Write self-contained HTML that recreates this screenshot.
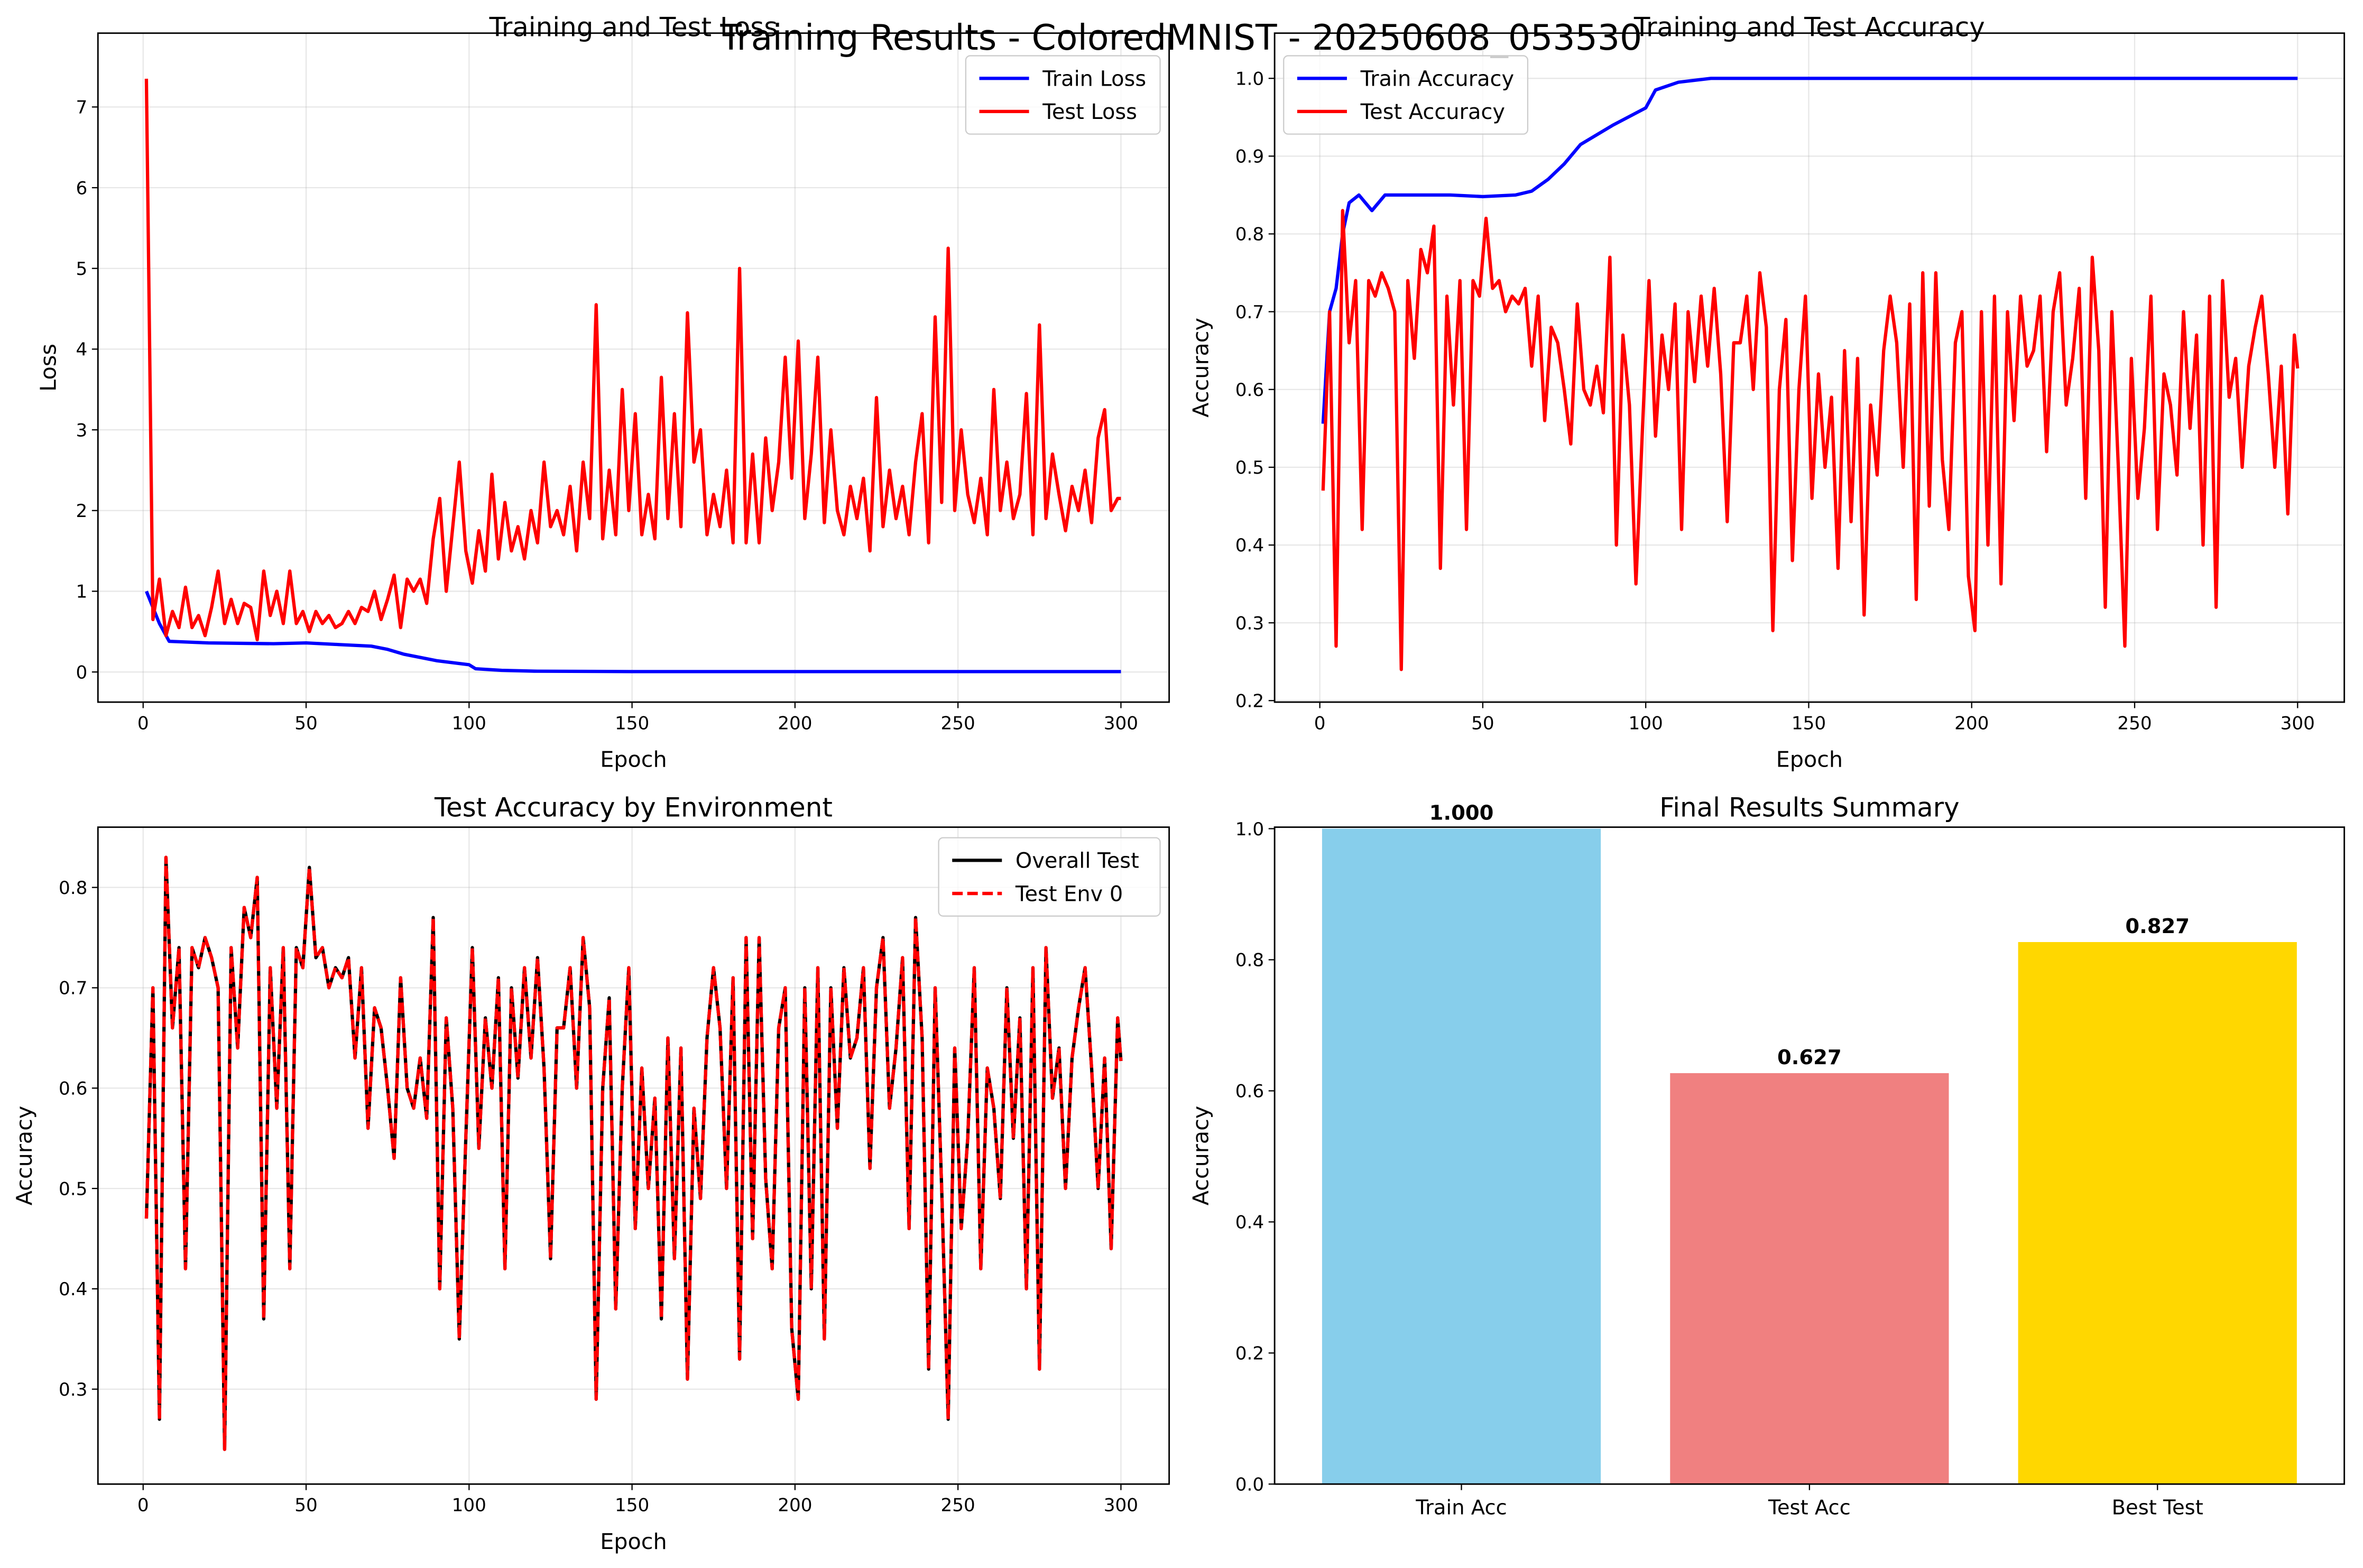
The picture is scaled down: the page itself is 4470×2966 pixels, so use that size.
<!DOCTYPE html>
<html><head><meta charset="utf-8"><style>
html,body{margin:0;padding:0;background:#fff}
svg{display:block;font-family:"DejaVu Sans","Liberation Sans",sans-serif}
</style></head><body>
<svg id="fig" xmlns="http://www.w3.org/2000/svg" width="4470" height="2966" viewBox="0 0 1568.4 1040.7">
<rect width="1568.4" height="1040.7" fill="#fff"/>
<text x="784" y="33" font-size="23.3" text-anchor="middle">Training Results - ColoredMNIST - 20250608_053530</text>
</svg>
<script>
const testEpochs=[1,3,5,7,9,11,13,15,17,19,21,23,25,27,29,31,33,35,37,39,41,43,45,47,49,51,53,55,57,59,61,63,65,67,69,71,73,75,77,79,81,83,85,87,89,91,93,95,97,99,101,103,105,107,109,111,113,115,117,119,121,123,125,127,129,131,133,135,137,139,141,143,145,147,149,151,153,155,157,159,161,163,165,167,169,171,173,175,177,179,181,183,185,187,189,191,193,195,197,199,201,203,205,207,209,211,213,215,217,219,221,223,225,227,229,231,233,235,237,239,241,243,245,247,249,251,253,255,257,259,261,263,265,267,269,271,273,275,277,279,281,283,285,287,289,291,293,295,297,299,300];
const testAcc=[0.47,0.70,0.27,0.83,0.66,0.74,0.42,0.74,0.72,0.75,0.73,0.70,0.24,0.74,0.64,0.78,0.75,0.81,0.37,0.72,0.58,0.74,0.42,0.74,0.72,0.82,0.73,0.74,0.70,0.72,0.71,0.73,0.63,0.72,0.56,0.68,0.66,0.60,0.53,0.71,0.60,0.58,0.63,0.57,0.77,0.40,0.67,0.58,0.35,0.55,0.74,0.54,0.67,0.60,0.71,0.42,0.70,0.61,0.72,0.63,0.73,0.62,0.43,0.66,0.66,0.72,0.60,0.75,0.68,0.29,0.60,0.69,0.38,0.60,0.72,0.46,0.62,0.50,0.59,0.37,0.65,0.43,0.64,0.31,0.58,0.49,0.65,0.72,0.66,0.50,0.71,0.33,0.75,0.45,0.75,0.51,0.42,0.66,0.70,0.36,0.29,0.70,0.40,0.72,0.35,0.70,0.56,0.72,0.63,0.65,0.72,0.52,0.70,0.75,0.58,0.64,0.73,0.46,0.77,0.65,0.32,0.70,0.50,0.27,0.64,0.46,0.55,0.72,0.42,0.62,0.58,0.49,0.70,0.55,0.67,0.40,0.72,0.32,0.74,0.59,0.64,0.50,0.63,0.68,0.72,0.62,0.50,0.63,0.44,0.67,0.627];
const testLoss=[7.35,0.65,1.15,0.45,0.75,0.55,1.05,0.55,0.7,0.45,0.8,1.25,0.6,0.9,0.6,0.85,0.8,0.4,1.25,0.7,1.0,0.6,1.25,0.6,0.75,0.5,0.75,0.6,0.7,0.55,0.6,0.75,0.6,0.8,0.75,1.0,0.65,0.9,1.2,0.55,1.15,1.0,1.15,0.85,1.65,2.15,1.0,1.8,2.6,1.5,1.1,1.75,1.25,2.45,1.4,2.1,1.5,1.8,1.4,2.0,1.6,2.6,1.8,2.0,1.7,2.3,1.5,2.6,1.9,4.55,1.65,2.5,1.7,3.5,2.0,3.2,1.7,2.2,1.65,3.65,1.9,3.2,1.8,4.45,2.6,3.0,1.7,2.2,1.8,2.5,1.6,5.0,1.6,2.7,1.6,2.9,2.0,2.6,3.9,2.4,4.1,1.9,2.7,3.9,1.85,3.0,2.0,1.7,2.3,1.9,2.4,1.5,3.4,1.8,2.5,1.9,2.3,1.7,2.6,3.2,1.6,4.4,2.1,5.25,2.0,3.0,2.2,1.85,2.4,1.7,3.5,2.0,2.6,1.9,2.2,3.45,1.7,4.3,1.9,2.7,2.2,1.75,2.3,2.0,2.5,1.85,2.9,3.25,2.0,2.15,2.15];
const trainLossEpochs=[1,5,8,20,40,50,60,70,75,80,90,100,102,110,120,150,300];
const trainLoss=[1.0,0.6,0.38,0.36,0.35,0.36,0.34,0.32,0.28,0.22,0.14,0.09,0.04,0.02,0.01,0.005,0.005];
const trainAccEpochs=[1,3,5,7,9,12,16,20,30,40,50,60,65,70,75,80,90,100,103,110,120,300];
const trainAcc=[0.556,0.70,0.73,0.80,0.84,0.85,0.83,0.85,0.85,0.85,0.848,0.85,0.855,0.87,0.89,0.915,0.94,0.962,0.985,0.995,1.0,1.0];
const barCats=["Train Acc","Test Acc","Best Test"];
const barVals=[1.000,0.627,0.827];
const barLabels=["1.000","0.627","0.827"];
const barColors=["#87ceeb","#f08080","#ffd700"];
const epochTicks=[0,50,100,150,200,250,300];
const lossTicks=[0,1,2,3,4,5,6,7];
const acc2Ticks=[0.2,0.3,0.4,0.5,0.6,0.7,0.8,0.9,1.0];
const acc3Ticks=[0.3,0.4,0.5,0.6,0.7,0.8];
const barTicks=[0,0.2,0.4,0.6,0.8,1.0];

const NS="http://www.w3.org/2000/svg";
const svg=document.getElementById('fig');
function mk(tag,attrs,parent){const e=document.createElementNS(NS,tag);for(const k in attrs)e.setAttribute(k,attrs[k]);(parent||svg).appendChild(e);return e;}
function lin(d0,d1,r0,r1){return v=>r0+(v-d0)*(r1-r0)/(d1-d0);}

function axes(name,L,R,T,B,title,titleY,xlabel,ylabel,ylx){
  const g=mk('g',{});
  
  
  const t=mk('text',{x:(L+R)/2,y:titleY,'font-size':17.5,'text-anchor':'middle'},g);t.textContent=title;
  
  
  if(xlabel){const x=mk('text',{x:(L+R)/2,y:B+43,'font-size':14.5,'text-anchor':'middle'},g);x.textContent=xlabel;
  
  }
  const y=mk('text',{x:0,y:0,'font-size':14.5,'text-anchor':'middle',transform:`translate(${ylx},${(T+B)/2}) rotate(-90)`},g);y.textContent=ylabel;
  
  
  return g;
}
function frame(g,L,R,T,B){const r=mk('rect',{x:L,y:T,width:R-L,height:B-T,fill:'none',stroke:'#000','stroke-width':1},g);
  
  }
function xTicks(g,L,R,T,B,sx,grid){
  epochTicks.forEach(v=>{const x=sx(v);
    if(grid)mk('line',{x1:x,x2:x,y1:T,y2:B,stroke:'#b0b0b0','stroke-opacity':0.3,'stroke-width':0.8},g);
    mk('line',{x1:x,x2:x,y1:B,y2:B+4,stroke:'#000','stroke-width':0.8},g);
    const t=mk('text',{x:x,y:B+18,'font-size':12,'text-anchor':'middle'},g);t.textContent=v;
    
    });
}
function yTicks(g,L,R,T,B,sy,ticks,fmt,grid){
  ticks.forEach(v=>{const y=sy(v);
    if(grid)mk('line',{x1:L,x2:R,y1:y,y2:y,stroke:'#b0b0b0','stroke-opacity':0.3,'stroke-width':0.8},g);
    mk('line',{x1:L-4,x2:L,y1:y,y2:y,stroke:'#000','stroke-width':0.8},g);
    const t=mk('text',{x:L-7,y:y+4.3,'font-size':12,'text-anchor':'end'},g);t.textContent=fmt(v);
    
    });
}
function line(g,xs,ys,sx,sy,color,name,dash){
  const d=xs.map((e,i)=>(i?'L':'M')+sx(e).toFixed(2)+','+sy(ys[i]).toFixed(2)).join(' ');
  const p=mk('path',{d:d,fill:'none',stroke:color,'stroke-width':2.2,'stroke-linejoin':'round'},g);
  if(dash)p.setAttribute('stroke-dasharray',dash);
  
  
}
function legend(g,x,y,w,items){
  const h=items.length*22+8;
  const r=mk('rect',{x:x,y:y,width:w,height:h,rx:3,fill:'#fff','fill-opacity':0.8,stroke:'#ccc','stroke-width':0.8},g);
  
  
  items.forEach((it,i)=>{const yy=y+15+i*22;
    const l=mk('line',{x1:x+9,x2:x+42,y1:yy,y2:yy,stroke:it.c,'stroke-width':2.2},g);
    if(it.dash)l.setAttribute('stroke-dasharray',it.dash);
    const t=mk('text',{x:x+51,y:yy+5,'font-size':14},g);t.textContent=it.t;
    
    });
}
const f1=v=>v.toFixed(1);

// Plot 1: loss
{const L=65,R=776,T=22,B=466;const sx=lin(0,300,95,744),sy=lin(0,7,446,71);
 const g=axes('loss-chart',L,R,T,B,'Training and Test Loss',24,'Epoch','Loss',L-28);
 xTicks(g,L,R,T,B,sx,true);yTicks(g,L,R,T,B,sy,lossTicks,v=>v,true);
 line(g,trainLossEpochs,trainLoss,sx,sy,'#0000ff','train-loss-line');
 line(g,testEpochs,testLoss,sx,sy,'#ff0000','test-loss-line');
 frame(g,L,R,T,B);
 legend(g,641,37,129,[{c:'#0000ff',t:'Train Loss'},{c:'#ff0000',t:'Test Loss'}]);}
// Plot 2: accuracy
{const L=846,R=1556,T=22,B=466;const sx=lin(0,300,876,1525),sy=lin(0.2,1.0,465,52);
 const g=axes('accuracy-chart',L,R,T,B,'Training and Test Accuracy',24,'Epoch','Accuracy',L-44);
 xTicks(g,L,R,T,B,sx,true);yTicks(g,L,R,T,B,sy,acc2Ticks,f1,true);
 line(g,trainAccEpochs,trainAcc,sx,sy,'#0000ff','train-accuracy-line');
 line(g,testEpochs,testAcc,sx,sy,'#ff0000','test-accuracy-line');
 frame(g,L,R,T,B);
 legend(g,852,37,162,[{c:'#0000ff',t:'Train Accuracy'},{c:'#ff0000',t:'Test Accuracy'}]);}
// Plot 3: by environment
{const L=65,R=776,T=549,B=985;const sx=lin(0,300,95,744),sy=lin(0.3,0.8,922,589);
 const g=axes('env-accuracy-chart',L,R,T,B,'Test Accuracy by Environment',542,'Epoch','Accuracy',L-44);
 xTicks(g,L,R,T,B,sx,true);yTicks(g,L,R,T,B,sy,acc3Ticks,f1,true);
 line(g,testEpochs,testAcc,sx,sy,'#000000','overall-test-line');
 line(g,testEpochs,testAcc,sx,sy,'#ff0000','test-env0-line','7,3');
 frame(g,L,R,T,B);
 legend(g,623,556,147,[{c:'#000',t:'Overall Test'},{c:'#ff0000',t:'Test Env 0',dash:'7,3'}]);}
// Plot 4: bars
{const L=846,R=1556,T=549,B=985;const sy=lin(0,1.0,985,550);
 const g=axes('summary-chart',L,R,T,B,'Final Results Summary',542,'','Accuracy',L-44);
 yTicks(g,L,R,T,B,sy,barTicks,f1,false);
 const bx=lin(0,2,970,1432),bw=185;
 barCats.forEach((c,i)=>{const cx=bx(i);
   const r=mk('rect',{x:cx-bw/2,y:sy(barVals[i]),width:bw,height:sy(0)-sy(barVals[i]),fill:barColors[i]},g);
   
   
   const v=mk('text',{x:cx,y:sy(barVals[i])-6,'font-size':13.5,'font-weight':'bold','text-anchor':'middle'},g);v.textContent=barLabels[i];
   
   
   mk('line',{x1:cx,x2:cx,y1:B,y2:B+4,stroke:'#000','stroke-width':0.8},g);
   const t=mk('text',{x:cx,y:B+20,'font-size':13.5,'text-anchor':'middle'},g);t.textContent=c;
   
   });
 frame(g,L,R,T,B);}
</script>
</body></html>
